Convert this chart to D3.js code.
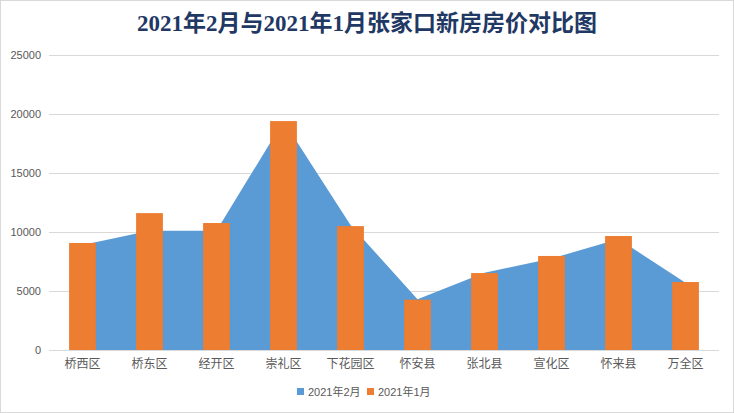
<!DOCTYPE html>
<html>
<head>
<meta charset="utf-8">
<script src="https://cdn.jsdelivr.net/npm/d3@7/dist/d3.min.js"></script>
<style>
  html, body { margin: 0; padding: 0; background: #fff; }
  svg { display: block; }
</style>
</head>
<body>
<script>
const categories = ["桥西区", "桥东区", "经开区", "崇礼区", "下花园区", "怀安县", "张北县", "宣化区", "怀来县", "万全区"];
const feb2021 = [8900, 10100, 10100, 19400, 10600, 4300, 6550, 7750, 9400, 5700];
const jan2021 = [9070, 11600, 10760, 19400, 10500, 4260, 6520, 7970, 9660, 5760];
const yTicks = [0, 5000, 10000, 15000, 20000, 25000];
const seriesNames = ["2021年2月", "2021年1月"];
const titleText = "2021年2月与2021年1月张家口新房房价对比图";

const W = 734, H = 413;
const margin = { left: 49, right: 15, top: 55, bottom: 63 };
const colors = { feb: "#5B9BD5", jan: "#ED7D31" };

const svg = d3.select("body").append("svg").attr("width", W).attr("height", H);

svg.append("rect").attr("x", 0.5).attr("y", 0.5).attr("width", W - 1).attr("height", H - 1)
  .attr("fill", "#fff").attr("stroke", "#d9d9d9");

const x = d3.scaleBand().domain(categories).range([margin.left, W - margin.right]).paddingInner(0).paddingOuter(0);
const y = d3.scaleLinear().domain([0, 25000]).range([H - margin.bottom, margin.top]);

// gridlines
svg.append("g").selectAll("line").data(yTicks).join("line")
  .attr("x1", margin.left).attr("x2", W - margin.right)
  .attr("y1", d => y(d) + 0.5).attr("y2", d => y(d) + 0.5)
  .attr("stroke", "#d9d9d9").attr("stroke-width", 1);

// area (Feb)
const cx = d => x(d) + x.bandwidth() / 2;
const area = d3.area()
  .x((d, i) => cx(categories[i]))
  .y0(y(0))
  .y1(d => y(d));
svg.append("path").datum(feb2021).attr("d", area).attr("fill", colors.feb);

// bars (Jan)
const barW = x.bandwidth() * 0.4;
svg.append("g").selectAll("rect").data(jan2021).join("rect")
  .attr("x", (d, i) => cx(categories[i]) - barW / 2)
  .attr("width", barW)
  .attr("y", d => y(d))
  .attr("height", d => y(0) - y(d))
  .attr("fill", colors.jan);

// y axis labels
const yAxis = d3.axisLeft(y).tickValues(yTicks).tickSize(0).tickPadding(8).tickFormat(d3.format("d"));
const gy = svg.append("g").attr("transform", `translate(${margin.left},0)`).call(yAxis);
gy.select(".domain").remove();
gy.selectAll("text").attr("fill", "#595959").style("font-family", "'Liberation Sans', Arial, sans-serif").style("font-size", "11px");

// x axis labels
const xAxis = d3.axisBottom(x).tickSize(0).tickPadding(9);
const gx = svg.append("g").attr("transform", `translate(0,${y(0)})`).call(xAxis);
gx.select(".domain").remove();
gx.selectAll("text").attr("fill", "#595959").style("font-family", "'Noto Sans CJK SC', sans-serif").style("font-size", "12px");

// title
svg.append("text").attr("x", W / 2).attr("y", 31).attr("text-anchor", "middle")
  .attr("fill", "#1F3864").style("font-family", "'Liberation Serif', 'Noto Sans CJK SC', serif")
  .style("font-weight", "bold").style("font-size", "23px").text(titleText);

// legend
const legend = svg.append("g").attr("transform", "translate(297,392)");
const legendItems = [
  { name: seriesNames[0], color: colors.feb, dx: 0 },
  { name: seriesNames[1], color: colors.jan, dx: 70 }
];
const li = legend.selectAll("g").data(legendItems).join("g").attr("transform", d => `translate(${d.dx},0)`);
li.append("rect").attr("x", 0).attr("y", -4).attr("width", 7).attr("height", 7).attr("fill", d => d.color);
li.append("text").attr("x", 11).attr("y", 4).attr("fill", "#595959")
  .style("font-family", "'Liberation Sans', 'Noto Sans CJK SC', sans-serif").style("font-size", "11px").text(d => d.name);
</script>
</body>
</html>
